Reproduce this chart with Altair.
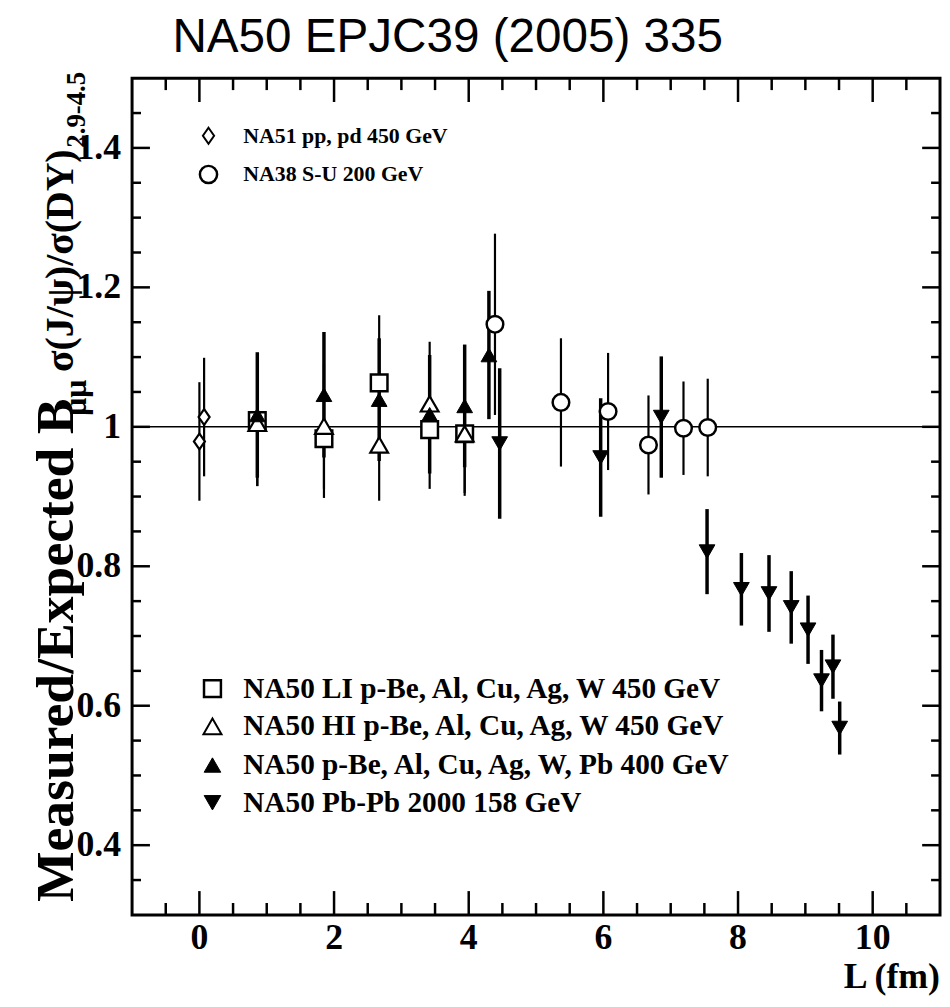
import altair as alt
import pandas as pd

# ---------------- data ----------------
na51_L = [0.0, 0.07]
na51_R = [0.979, 1.014]
na51_E = [0.085, 0.085]

na38_L = [4.39, 5.37, 6.07, 6.67, 7.19, 7.55]
na38_R = [1.147, 1.035, 1.022, 0.974, 0.998, 0.999]
na38_E = [0.13, 0.092, 0.084, 0.071, 0.067, 0.070]

li_L = [0.86, 1.85, 2.67, 3.42, 3.94]
li_R = [1.009, 0.983, 1.063, 0.996, 0.990]
li_E = [0.094, 0.085, 0.097, 0.085, 0.089]

hi_L = [0.86, 1.85, 2.67, 3.42, 3.94]
hi_R = [1.005, 1.001, 0.974, 1.033, 0.990]
hi_E = [0.090, 0.090, 0.080, 0.089, 0.085]

p400_L = [0.86, 1.85, 2.67, 3.42, 3.94, 4.30]
p400_R = [1.017, 1.046, 1.039, 1.018, 1.030, 1.103]
p400_E = [0.090, 0.090, 0.088, 0.085, 0.088, 0.092]

pbpb_L = [4.46, 5.96, 6.86, 7.54, 8.05, 8.46, 8.79, 9.04, 9.24, 9.41, 9.51]
pbpb_R = [0.976, 0.956, 1.014, 0.821, 0.767, 0.761, 0.741, 0.709, 0.636, 0.656, 0.568]
pbpb_E = [0.108, 0.085, 0.087, 0.061, 0.052, 0.055, 0.052, 0.049, 0.044, 0.046, 0.038]

x_major = [0, 2, 4, 6, 8, 10]
x_labels = ["0", "2", "4", "6", "8", "10"]
x_minor = [-0.5, 0.5, 1, 1.5, 2.5, 3, 3.5, 4.5, 5, 5.5, 6.5, 7, 7.5, 8.5, 9, 9.5, 10.5]
y_major = [0.4, 0.6, 0.8, 1.0, 1.2, 1.4]
y_labels = ["0.4", "0.6", "0.8", "1", "1.2", "1.4"]
y_minor = [0.35, 0.45, 0.5, 0.55, 0.65, 0.7, 0.75, 0.85, 0.9, 0.95,
           1.05, 1.1, 1.15, 1.25, 1.3, 1.35, 1.45]

legend_top = ["NA51 pp, pd 450 GeV", "NA38 S-U 200 GeV"]
legend_bottom = ["NA50 LI p-Be, Al, Cu, Ag, W 450 GeV",
                 "NA50 HI p-Be, Al, Cu, Ag, W 450 GeV",
                 "NA50 p-Be, Al, Cu, Ag, W, Pb 400 GeV",
                 "NA50 Pb-Pb 2000 158 GeV"]
title_text = "NA50 EPJC39 (2005) 335"
x_title = "L (fm)"

# ---------------- layout ----------------
W, H = 814, 843
PAD_L, PAD_T = 125, 67
SERIF = "Liberation Serif"
SANS = "Liberation Sans"
DIAMOND = "M0,-1L0.7,0L0,1L-0.7,0Z"

xs = alt.Scale(domain=[-1, 11], nice=False, zero=False)
ys = alt.Scale(domain=[0.3, 1.5], nice=False, zero=False)


def frame(L, R, E):
    return pd.DataFrame({"L": L, "R": R,
                         "lo": [r - e for r, e in zip(R, E)],
                         "hi": [r + e for r, e in zip(R, E)]})


def bars(d, sw):
    return alt.Chart(d).mark_rule(color="black", strokeWidth=sw).encode(
        x=alt.X("L:Q", scale=xs, axis=None),
        y=alt.Y("lo:Q", scale=ys, axis=None),
        y2="hi:Q")


def points(d, shape, size, fill, sw=2.2):
    return alt.Chart(d).mark_point(shape=shape, size=size, filled=True, fill=fill,
                                   stroke="black", strokeWidth=sw, opacity=1).encode(
        x=alt.X("L:Q", scale=xs, axis=None),
        y=alt.Y("R:Q", scale=ys, axis=None))


d51 = frame(na51_L, na51_R, na51_E)
d38 = frame(na38_L, na38_R, na38_E)
dli = frame(li_L, li_R, li_E)
dhi = frame(hi_L, hi_R, hi_E)
d400 = frame(p400_L, p400_R, p400_E)
dpb = frame(pbpb_L, pbpb_R, pbpb_E)

layers = []

# reference line at 1
one = alt.Chart(pd.DataFrame({"v": [1.0]})).mark_rule(color="black", strokeWidth=1.5).encode(
    y=alt.Y("v:Q", scale=ys, axis=None), x=alt.value(0), x2=alt.value(W))
layers.append(one)

# error bars
layers += [bars(d51, 2.2), bars(d38, 2.2), bars(dli, 2.2), bars(dhi, 2.2),
           bars(d400, 3.5), bars(dpb, 3.5)]

# markers
layers += [points(dli, "square", 280, "white", 2.5),
           points(dhi, "triangle-up", 320, "white", 2.2),
           points(d51, DIAMOND, 250, "white", 2.2),
           points(d38, "circle", 280, "white", 2.5),
           points(d400, "triangle-up", 250, "black", 1),
           points(dpb, "triangle-down", 250, "black", 1)]

# ticks (inward, ROOT style)
xmaj = pd.DataFrame({"v": x_major, "t": x_labels})
xmin = pd.DataFrame({"v": x_minor})
ymaj = pd.DataFrame({"v": y_major, "t": y_labels})
ymin = pd.DataFrame({"v": y_minor})


def xtick(d, y0, y1):
    return alt.Chart(d).mark_rule(color="black", strokeWidth=2.5).encode(
        x=alt.X("v:Q", scale=xs, axis=None), y=alt.value(y0), y2=alt.value(y1))


def ytick(d, x0, x1):
    return alt.Chart(d).mark_rule(color="black", strokeWidth=2.5).encode(
        y=alt.Y("v:Q", scale=ys, axis=None), x=alt.value(x0), x2=alt.value(x1))


layers += [xtick(xmaj, H, H - 24), xtick(xmaj, 0, 24),
           xtick(xmin, H, H - 12), xtick(xmin, 0, 12),
           ytick(ymaj, 0, 18), ytick(ymaj, W, W - 18),
           ytick(ymin, 0, 9), ytick(ymin, W, W - 9)]

# tick labels
layers.append(alt.Chart(xmaj).mark_text(font=SERIF, fontWeight="bold", fontSize=36,
                                        align="center", baseline="alphabetic", color="black").encode(
    x=alt.X("v:Q", scale=xs, axis=None), y=alt.value(877), text="t:N"))
layers.append(alt.Chart(ymaj).mark_text(font=SERIF, fontWeight="bold", fontSize=36,
                                        align="right", baseline="middle", color="black").encode(
    y=alt.Y("v:Q", scale=ys, axis=None), x=alt.value(-11), text="t:N"))


# ---------------- texts ----------------
def text(t, x, y, size, font=SERIF, weight="bold", align="left", angle=0, baseline="middle"):
    kw = dict(font=font, fontWeight=weight, fontSize=size, align=align,
              baseline=baseline, color="black")
    if angle:
        kw["angle"] = angle
    return alt.Chart(pd.DataFrame({"t": [t]})).mark_text(**kw).encode(
        x=alt.value(x), y=alt.value(y), text="t:N")


# title
layers.append(text(title_text, 318, -40, 48, font=SANS, weight="normal", align="center"))

# x-axis title
layers.append(text(x_title, W, 917, 36, align="right", baseline="alphabetic"))

# y-axis title pieces (reading bottom to top)
layers.append(text("Measured/Expected B", -60, 830, 54, angle=270, baseline="alphabetic"))
layers.append(text("\u03bc\u03bc", -46, 340, 32, angle=270, baseline="alphabetic"))
layers.append(text("\u03c3(J/\u03c8)/\u03c3(DY)", -60, 296, 40, angle=270, baseline="alphabetic"))
layers.append(text("2.9-4.5", -47, 70, 27, angle=270, baseline="alphabetic"))

# legends
LX, TX = 77, 112
top_rows = [58, 97]
bot_rows = [615, 653, 692, 730]
leg_shapes = [(DIAMOND, 260, "white", 2.0), ("circle", 300, "white", 2.5)]
bot_shapes = [("square", 290, "white", 2.5), ("triangle-up", 330, "white", 2.0),
              ("triangle-up", 280, "black", 1), ("triangle-down", 280, "black", 1)]

for lab, yy, (shp, sz, fl, sw) in zip(legend_top, top_rows, leg_shapes):
    layers.append(alt.Chart(pd.DataFrame({"t": [lab]})).mark_point(
        shape=shp, size=sz, filled=True, fill=fl, stroke="black", strokeWidth=sw, opacity=1
    ).encode(x=alt.value(LX), y=alt.value(yy)))
    layers.append(text(lab, TX, yy, 22))

for lab, yy, (shp, sz, fl, sw) in zip(legend_bottom, bot_rows, bot_shapes):
    layers.append(alt.Chart(pd.DataFrame({"t": [lab]})).mark_point(
        shape=shp, size=sz, filled=True, fill=fl, stroke="black", strokeWidth=sw, opacity=1
    ).encode(x=alt.value(LX + 4), y=alt.value(yy)))
    layers.append(text(lab, TX, yy, 29.5))

chart = alt.layer(*layers).properties(
    width=W, height=H,
    autosize=alt.AutoSizeParams(type="none"),
    padding={"left": PAD_L, "top": PAD_T, "right": 2, "bottom": 80},
    background="white",
).configure_view(stroke="black", strokeWidth=3)

chart.save("out.html", embed_options={"renderer": "svg", "actions": False})
